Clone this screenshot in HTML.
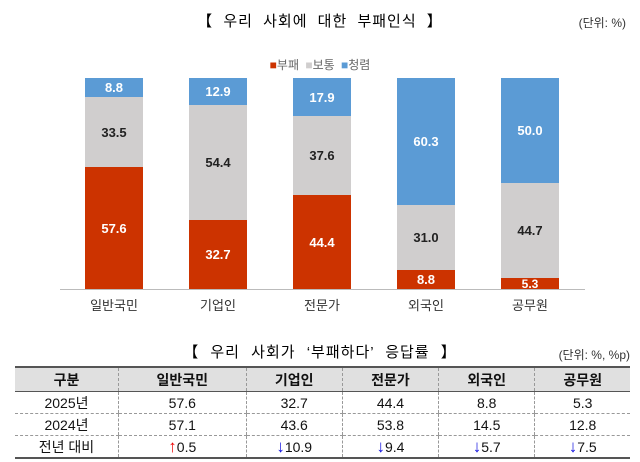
<!DOCTYPE html>
<html><head><meta charset="utf-8"><style>
body{margin:0;width:640px;height:462px;background:#fff;font-family:"Liberation Sans","Noto Sans CJK KR",sans-serif;position:relative;overflow:hidden}
.a{position:absolute}
.bar{position:absolute;width:58px}
.seg{position:absolute;left:0;width:58px;display:flex;align-items:center;justify-content:center;font-weight:bold;font-size:13px}
.r{background:#cc3300;color:#fff}.g{background:#d0cece;color:#222}.b{background:#5b9bd5;color:#fff}
.cat{position:absolute;top:295px;width:100px;text-align:center;font-size:13px;color:#333}
table{position:absolute;left:15px;top:366px;width:615px;border-collapse:collapse;font-size:14px;color:#111}
td{text-align:center;border-left:1px dashed #999;border-bottom:1px dashed #999;height:21px;padding:0}
td:first-child{border-left:none}
tr.h td{background:#e0e0e0;font-weight:bold;height:23px;border-top:2px solid #555;border-bottom:1px solid #555}
tr:last-child td{border-bottom:2px solid #555}
.up{color:#e00;font-weight:bold;font-size:17px;line-height:14px}.dn{color:#1010e0;font-weight:bold;font-size:17px;line-height:14px}
</style></head><body>
<div class="a" style="left:0;width:640px;top:10px;text-align:center;font-size:15px;letter-spacing:1px;word-spacing:5px">【 우리 사회에 대한 부패인식 】</div>
<div class="a" style="right:14px;top:14px;font-size:12px;color:#333">(단위: %)</div>
<div class="a" style="left:0;width:640px;top:56px;text-align:center;font-size:12px;color:#666;word-spacing:3px"><span style="color:#cc3300">■</span>부패 <span style="color:#d0cece">■</span>보통 <span style="color:#5b9bd5">■</span>청렴</div>
<div class="a" style="left:60px;top:289px;width:525px;height:1px;background:#bbb"></div>

<div class="bar" style="left:85px;top:78px;height:211px">
<div class="seg b" style="top:0;height:19px">8.8</div><div class="seg g" style="top:19px;height:70px">33.5</div><div class="seg r" style="top:89px;height:122px">57.6</div></div>
<div class="bar" style="left:189px;top:78px;height:211px">
<div class="seg b" style="top:0;height:27px">12.9</div><div class="seg g" style="top:27px;height:115px">54.4</div><div class="seg r" style="top:142px;height:69px">32.7</div></div>
<div class="bar" style="left:293px;top:78px;height:211px">
<div class="seg b" style="top:0;height:38px">17.9</div><div class="seg g" style="top:38px;height:79px">37.6</div><div class="seg r" style="top:117px;height:94px">44.4</div></div>
<div class="bar" style="left:397px;top:78px;height:211px">
<div class="seg b" style="top:0;height:127px">60.3</div><div class="seg g" style="top:127px;height:65px">31.0</div><div class="seg r" style="top:192px;height:19px">8.8</div></div>
<div class="bar" style="left:501px;top:78px;height:211px">
<div class="seg b" style="top:0;height:105px">50.0</div><div class="seg g" style="top:105px;height:95px">44.7</div><div class="seg r" style="top:200px;height:11px;font-size:12px">5.3</div></div>

<div class="cat" style="left:64px">일반국민</div>
<div class="cat" style="left:168px">기업인</div>
<div class="cat" style="left:272px">전문가</div>
<div class="cat" style="left:376px">외국인</div>
<div class="cat" style="left:480px">공무원</div>

<div class="a" style="left:0;width:640px;top:341px;text-align:center;font-size:15px;letter-spacing:1px;word-spacing:6px">【 우리 사회가 ‘부패하다’ 응답률 】</div>
<div class="a" style="right:10px;top:346px;font-size:12px;color:#333">(단위: %, %p)</div>
<table>
<tr class="h"><td style="width:103px">구분</td><td>일반국민</td><td>기업인</td><td>전문가</td><td>외국인</td><td>공무원</td></tr>
<tr><td>2025년</td><td>57.6</td><td>32.7</td><td>44.4</td><td>8.8</td><td>5.3</td></tr>
<tr><td>2024년</td><td>57.1</td><td>43.6</td><td>53.8</td><td>14.5</td><td>12.8</td></tr>
<tr><td>전년 대비</td><td><span class="up">↑</span>0.5</td><td><span class="dn">↓</span>10.9</td><td><span class="dn">↓</span>9.4</td><td><span class="dn">↓</span>5.7</td><td><span class="dn">↓</span>7.5</td></tr>
</table>
</body></html>
